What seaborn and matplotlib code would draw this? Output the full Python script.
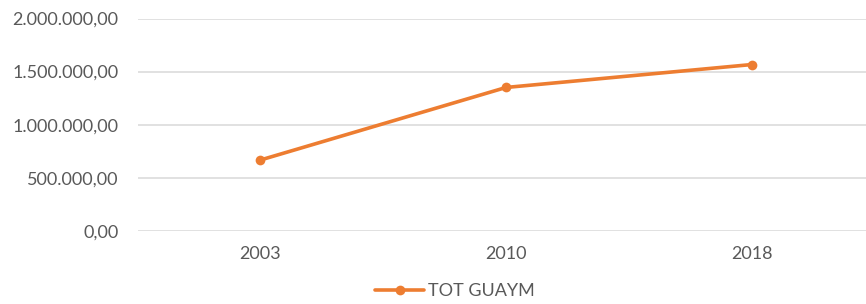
import matplotlib
matplotlib.use("Agg")
import matplotlib.pyplot as plt
import seaborn as sns
import pandas as pd
from matplotlib.ticker import FuncFormatter

years = ["2003", "2010", "2018"]
tot_guaym = [667000, 1351000, 1567000]

sns.set_style("white")
plt.rcParams['font.family'] = ['Lato', 'DejaVu Sans']

df = pd.DataFrame({"year": years, "value": tot_guaym})

fig = plt.figure(figsize=(8.66, 3.04), dpi=100)
ax = fig.add_axes([138 / 866, 1 - 231 / 304, 1 - 138 / 866, (231 - 18.5) / 304])

sns.lineplot(data=df, x="year", y="value", ax=ax, color="#ED7D31", linewidth=2.6,
             marker="o", markersize=7, markeredgewidth=0, label="TOT GUAYM", sort=False)

ax.set_ylim(0, 2000000)
ax.set_yticks([0, 500000, 1000000, 1500000, 2000000])
ax.set_xlim(-0.496, 2.463)


def fmt(v, pos):
    s = f"{v:,.2f}"
    return s.replace(",", "X").replace(".", ",").replace("X", ".")


ax.yaxis.set_major_formatter(FuncFormatter(fmt))
ax.grid(axis="y", color="#d9d9d9", linewidth=1.1)
ax.set_axisbelow(True)
for s in ax.spines.values():
    s.set_visible(False)
ax.tick_params(axis="both", length=0, labelsize=13, labelcolor="#595959")
ax.tick_params(axis="y", pad=14)
ax.tick_params(axis="x", pad=11)
ax.set_xlabel("")
ax.set_ylabel("")

leg = ax.legend(loc="center", bbox_to_anchor=(455 / 866, 1 - 291 / 304),
                bbox_transform=fig.transFigure, frameon=False, fontsize=13,
                handlelength=2.7, handletextpad=0.2)
for t in leg.get_texts():
    t.set_color("#595959")

fig.savefig("out.png", dpi=100)
